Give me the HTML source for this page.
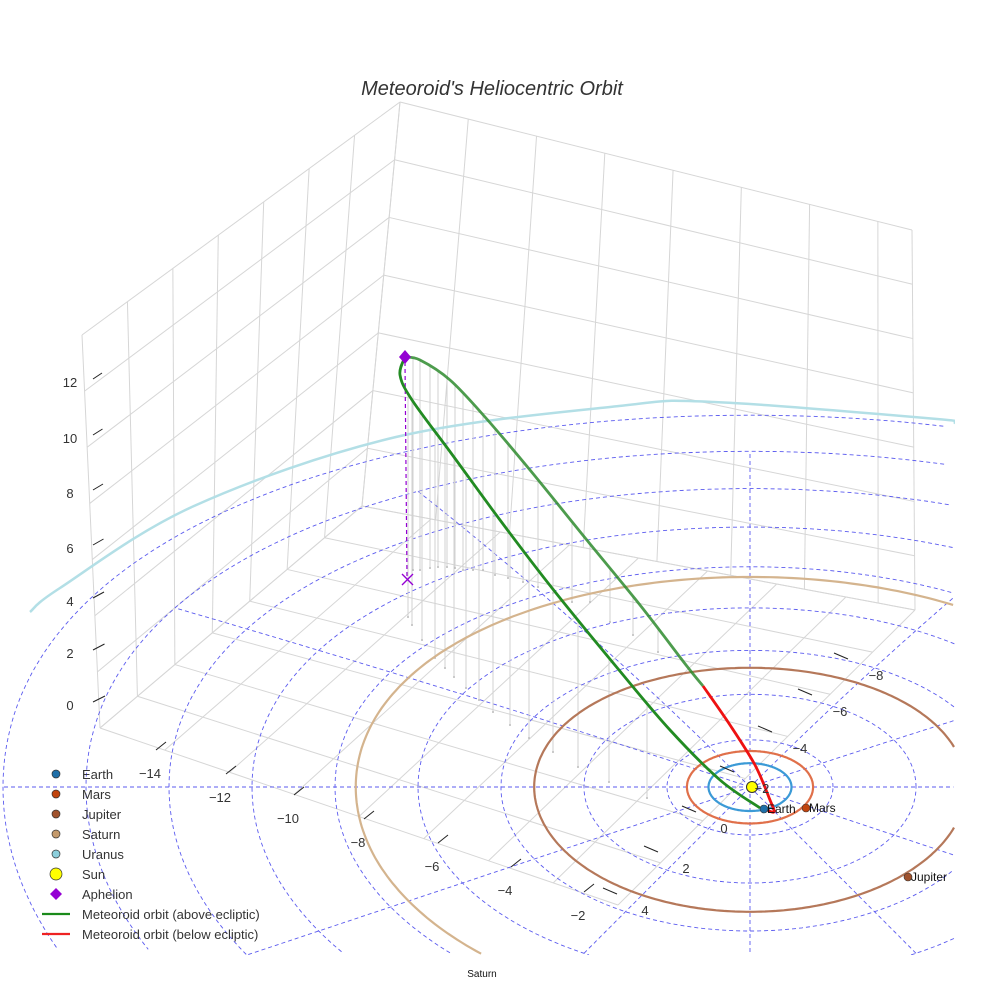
<!DOCTYPE html>
<html><head><meta charset="utf-8"><style>
html,body{margin:0;padding:0;background:#fff;overflow:hidden;width:984px;height:984px}
svg{display:block;font-family:"Liberation Sans",sans-serif}
</style></head><body>
<svg id="s" width="984" height="984" viewBox="0 0 984 984">
<defs><clipPath id="cp"><rect x="0" y="0" width="955" height="955"/></clipPath></defs>
<text x="492" y="95" text-anchor="middle" font-size="20" font-style="italic" fill="#333">Meteoroid's Heliocentric Orbit</text>
<g id="scene" clip-path="url(#cp)"></g>
<g id="axes"></g>
<g id="legend"></g>
</svg>
<script>
// ---- data ----
const planetNames = ["Earth","Mars","Jupiter","Saturn"];
const planetRadii = [1.0, 1.52, 5.2, 9.5];
const planetColors = ["#3b9ad6","#e0704a","#b5785a","#d4b48e"];
const markerColors = ["#1f6fa8","#c1440e","#a0522d","#c49a6c"];
const gridRadii = [2,4,6,8,10,12,14,16,18];
const radialAngles = [0,30,60,90,120,150,180,210,240,270,300,330];
const zTicks = [0,2,4,6,8,10,12];
const xTicks = [-14,-12,-10,-8,-6,-4,-2];
const yTicks = [4,2,0,-2,-4,-6,-8];
// meteoroid orbit (screen-estimated)
const orbitNearX = [405,400,412,451,500,552,619,670,720,760];
const orbitNearY = [357,375,400,453,520,588,670,730,780,808];
const orbitFarX = [405,420,450,485,530,586,640,686,703];
const orbitFarY = [357,360,380,417,470,539,605,665,686];
const orbitBelowX = [703,730,755,770,774,765];
const orbitBelowY = [686,725,765,800,812,809];
const uranusX = [30,60,194,396,619,714,937,955];
const uranusY = [612,588,506,437,406,402,419,423];
const dropNearX = [408,412,422,435,445,454,466,479,493,510,529,553,578,609,647];
const dropNearBottom = [617,625,640,658,668,677,688,700,712,725,738,752,767,782,798];
const dropFarX = [413,420,430,438,447,455,463,473,483,495,508,523,538,553,572,590,610,633,658];
const dropFarBottom = [570,570,568,567,567,568,570,570,570,575,578,582,587,593,602,602,622,635,652];

const NS="http://www.w3.org/2000/svg";
const scene=document.getElementById('scene'), axes=document.getElementById('axes'), legend=document.getElementById('legend');
function mk(tag,attrs,parent){const e=document.createElementNS(NS,tag);for(const k in attrs)e.setAttribute(k,attrs[k]);parent.appendChild(e);return e;}
const CX=750, CY=787, KX=41.5, KY=24, PC=0.009, W=955;
function ex(r,a){return CX+KX*r*Math.cos(a);}
function ey(r,a){const s=Math.sin(a);const d=KY*r*s;return CY-(s>0?d/(1+PC*r*s):d);}
function inside(x,y){return x>=0&&x<=W&&y>=0&&y<=W;}
function clippedPath(pts){let d='',pen=false;pts.forEach(p=>{if(inside(p[0],p[1])){d+=(pen?'L':'M')+p[0].toFixed(1)+' '+p[1].toFixed(1);pen=true;}else pen=false;});return d||'M0 0';}
function ringPath(r){const pts=[];for(let i=0;i<=360;i++){const a=i/360*2*Math.PI;pts.push([ex(r,a),ey(r,a)]);}return clippedPath(pts);}
function lerp(a,b,t){return [a[0]+(b[0]-a[0])*t,a[1]+(b[1]-a[1])*t];}
function interp(xs,ys,x){for(let i=1;i<xs.length;i++){const a=xs[i-1],b=xs[i];if((x>=Math.min(a,b))&&(x<=Math.max(a,b))&&a!==b){return ys[i-1]+(ys[i]-ys[i-1])*(x-a)/(b-a);}}return ys[ys.length-1];}
function smooth(xs,ys){let d='M'+xs[0]+' '+ys[0];const n=xs.length;
  for(let i=0;i<n-1;i++){const x0=xs[Math.max(i-1,0)],y0=ys[Math.max(i-1,0)],x1=xs[i],y1=ys[i],x2=xs[i+1],y2=ys[i+1],x3=xs[Math.min(i+2,n-1)],y3=ys[Math.min(i+2,n-1)];
  d+=` C${(x1+(x2-x0)/6).toFixed(1)} ${(y1+(y2-y0)/6).toFixed(1)} ${(x2-(x3-x1)/6).toFixed(1)} ${(y2-(y3-y1)/6).toFixed(1)} ${x2} ${y2}`;}return d;}

// ---- box grid ----
const Bt=[400,102],Lt=[82,335],Rt=[912,230],B=[362,506],L=[100,728],R=[915,610],F=[618,905];
const grid=mk('g',{},scene);


const gs={stroke:'#d6d6d6','stroke-width':1,fill:'none'};
function line(p,q,st,par){return mk('line',Object.assign({x1:p[0],y1:p[1],x2:q[0],y2:q[1]},st),par);}
for(let i=0;i<=7;i++){const t=i/7;line(lerp(Bt,Lt,t),lerp(B,L,t),gs,grid);}
for(let k=0;k<=7;k++){const t=k/7;line(lerp(B,Bt,t),lerp(L,Lt,t),gs,grid);}
for(let i=0;i<=7.5;i++){const t=Math.min(i/7.5,1);line(lerp(Bt,Rt,t),lerp(B,R,t),gs,grid);}
line(Rt,R,gs,grid);
for(let k=0;k<=7;k++){const t=k/7;line(lerp(B,Bt,t),lerp(R,Rt,t),gs,grid);}
function bil(u,v){const a=lerp(B,R,u),b=lerp(L,F,u);return lerp(a,b,v);}
for(let i=0;i<=8;i++){const u=i/8;line(bil(u,0),bil(u,1),gs,grid);}
for(let j=0;j<=7;j++){const v=j/7;line(bil(0,v),bil(1,v),gs,grid);}

// ---- ecliptic dashed grid ----
const eg=mk('g',{},scene);


gridRadii.forEach(r=>{
  const el=mk('path',{d:ringPath(r),fill:'none',stroke:'#5b5bef','stroke-width':0.9,'stroke-dasharray':'4 3'},eg);
  
  
});
radialAngles.forEach(d=>{
  const a=d*Math.PI/180, rmax=(d>0&&d<180)?16:20, pts=[];
  for(let i=0;i<=200;i++){const r=rmax*i/200;pts.push([ex(r,a),ey(r,a)]);}
  const el=mk('path',{d:clippedPath(pts),fill:'none',stroke:'#5b5bef','stroke-width':0.9,'stroke-dasharray':'4 3'},eg);
  
  
});

// ---- droplines ----
const dg=mk('g',{},scene);


dropNearX.forEach((x,i)=>{const top=interp(orbitNearX.slice(1),orbitNearY.slice(1),x);
  line([x,top],[x,dropNearBottom[i]],{stroke:'#d2d2d2','stroke-width':1},dg);
  mk('circle',{cx:x,cy:dropNearBottom[i],r:1,fill:'#bbb'},dg);});
dropFarX.forEach((x,i)=>{const top=interp(orbitFarX,orbitFarY,x);
  line([x,top],[x,dropFarBottom[i]],{stroke:'#d2d2d2','stroke-width':1},dg);
  mk('circle',{cx:x,cy:dropFarBottom[i],r:1,fill:'#bbb'},dg);});

// ---- planet orbits ----
planetRadii.forEach((r,i)=>{
  const el=mk('path',{d:ringPath(r),fill:'none',stroke:planetColors[i],'stroke-width':2.2},scene);
  
  
});
const ur=mk('path',{d:smooth(uranusX,uranusY),fill:'none',stroke:'#b3dfe6','stroke-width':2.5},scene);



// ---- meteoroid ----
const aph=mk('line',{x1:405,y1:362,x2:407,y2:578,stroke:'#9400d3','stroke-width':1.2,'stroke-dasharray':'4 3'},scene);


const g1=mk('path',{d:smooth(orbitNearX,orbitNearY),fill:'none',stroke:'#228b22','stroke-width':2.8},scene);


const g2=mk('path',{d:smooth(orbitFarX,orbitFarY),fill:'none',stroke:'#2e8b2e','stroke-width':2.8,'stroke-opacity':0.85},scene);


const rd=mk('path',{d:smooth(orbitBelowX,orbitBelowY),fill:'none',stroke:'#ee1111','stroke-width':2.8},scene);


const xm=mk('path',{d:'M402 574 L413 585 M413 574 L402 585',stroke:'#9400d3','stroke-width':1.4,fill:'none'},scene);


const dia=mk('path',{d:'M405 350 L411 357 L405 364 L399 357 Z',fill:'#9400d3'},scene);



// ---- sun & planets ----
const sun=mk('circle',{cx:752,cy:787,r:5.5,fill:'#ffff00',stroke:'#333','stroke-width':1},scene);


const pPos=[[764,809],[806,808],[908,877]];
pPos.forEach((p,i)=>{
  const c=mk('circle',{cx:p[0],cy:p[1],r:4,fill:markerColors[i],stroke:'#333','stroke-width':0.6},scene);
  
  
  const t=mk('text',{x:p[0]+3,y:p[1]+4,'font-size':12,fill:'#111'},scene);
  t.textContent=planetNames[i];
  
  
});
const sl=mk('text',{x:482,y:977,'font-size':10,'text-anchor':'middle',fill:'#111'},axes);
sl.textContent='Saturn';



// ---- axes ticks ----
const zY=[705,653,601,548,493,438,382];
zTicks.forEach((v,i)=>{
  const t=mk('text',{x:70,y:zY[i]+5,'font-size':13,'text-anchor':'middle',fill:'#333'},axes);
  t.textContent=String(v).replace('-','−');
  
  
  line([93,zY[i]-3],[105-0.5*i,zY[i]-9],{stroke:'#222','stroke-width':1},axes);
});
const xP=[[150,773],[220,797],[288,818],[358,842],[432,866],[505,890],[578,915]];
xTicks.forEach((v,i)=>{
  const t=mk('text',{x:xP[i][0],y:xP[i][1]+5,'font-size':13,'text-anchor':'middle',fill:'#333'},axes);
  t.textContent=String(v).replace('-','−');
  
  
  line([xP[i][0]+6,xP[i][1]-23],[xP[i][0]+16,xP[i][1]-31],{stroke:'#222','stroke-width':1},axes);
});
const yP=[[645,910],[686,868],[724,828],[762,788],[800,748],[840,711],[876,675]];
yTicks.forEach((v,i)=>{
  const t=mk('text',{x:yP[i][0],y:yP[i][1]+5,'font-size':13,'text-anchor':'middle',fill:'#333'},axes);
  t.textContent=String(v).replace('-','−');
  
  
  line([yP[i][0]-42,yP[i][1]-22],[yP[i][0]-28,yP[i][1]-16],{stroke:'#222','stroke-width':1},axes);
});

// ---- legend ----
const legNames=["Earth","Mars","Jupiter","Saturn","Uranus","Sun","Aphelion","Meteoroid orbit (above ecliptic)","Meteoroid orbit (below ecliptic)"];
const legColors=["#1f6fa8","#c1440e","#a0522d","#c49a6c","#8ccfdc","#ffff00","#9400d3","#1a8a1a","#ee2222"];
legNames.forEach((n,i)=>{
  const y=774+i*20;
  const g=mk('g',{},legend);
  
  
  if(i<6) mk('circle',{cx:56,cy:y,r:i===5?6:4,fill:legColors[i],stroke:'#333','stroke-width':0.7},g);
  else if(i===6) mk('path',{d:`M56 ${y-6} L62 ${y} L56 ${y+6} L50 ${y} Z`,fill:legColors[i]},g);
  else mk('line',{x1:42,y1:y,x2:70,y2:y,stroke:legColors[i],'stroke-width':2.2},g);
  const t=mk('text',{x:82,y:y+5,'font-size':13,fill:'#333'},g);
  t.textContent=n;
});
</script>
</body></html>
